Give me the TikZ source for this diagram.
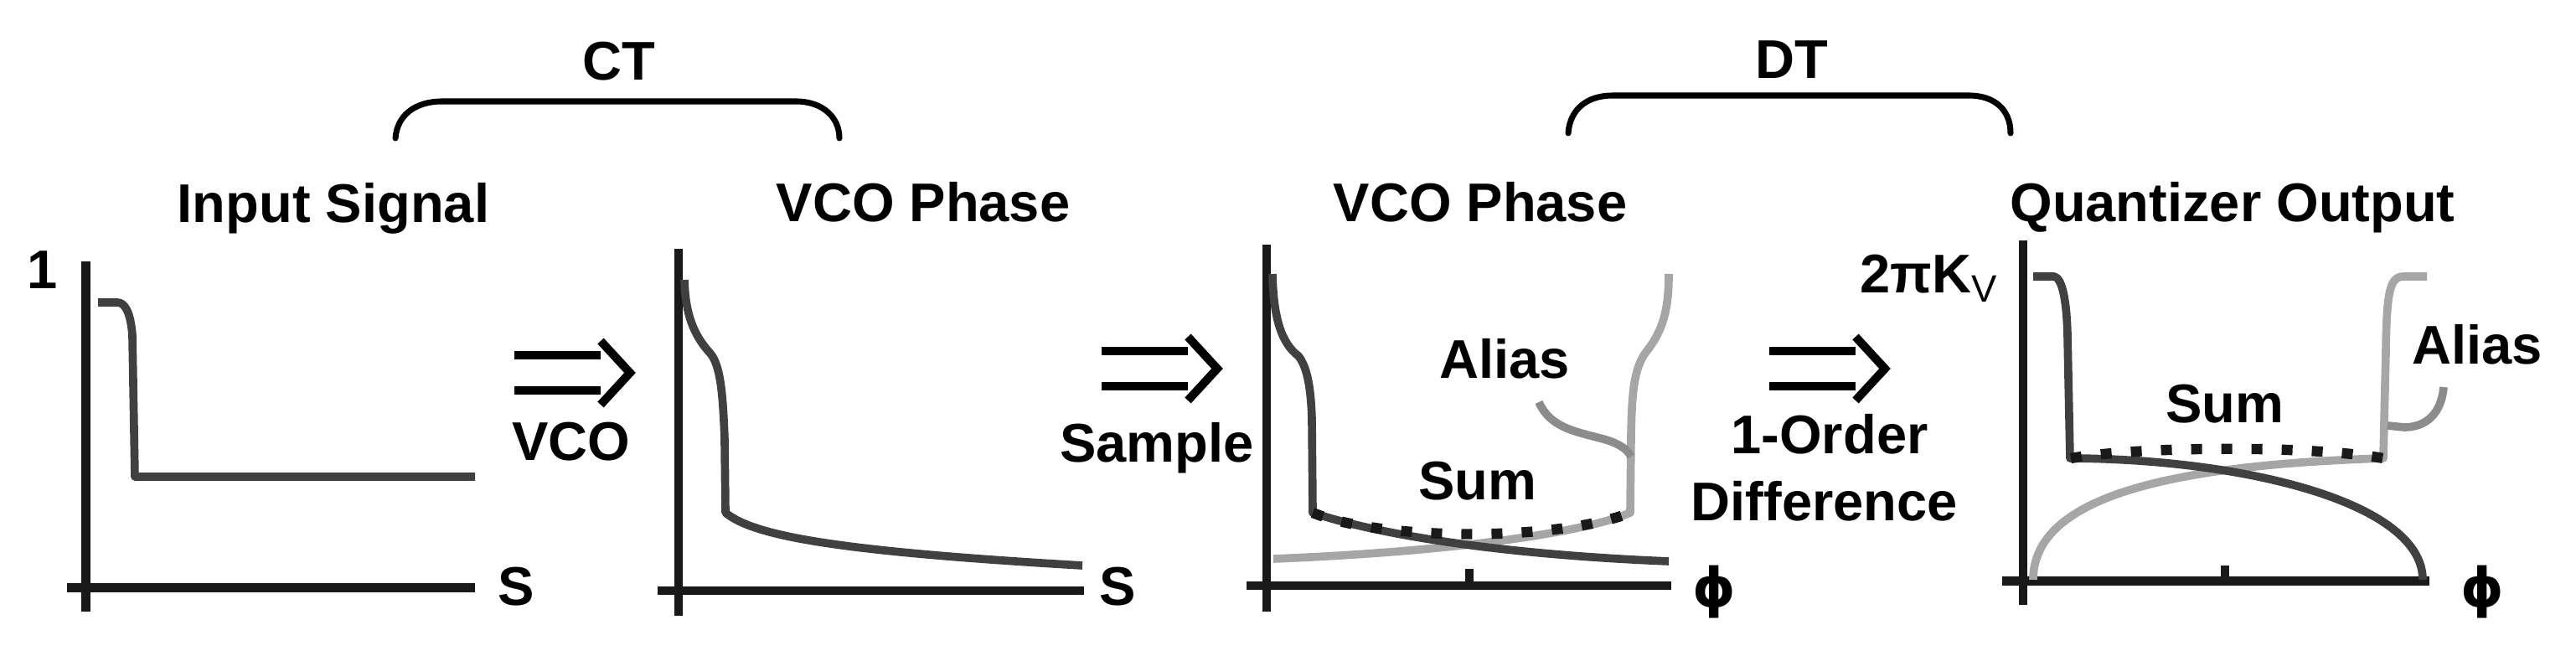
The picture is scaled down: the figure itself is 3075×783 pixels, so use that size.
\documentclass[tikz,border=0pt]{standalone}
\usepackage{fontspec}
\setmainfont{Liberation Sans}
\newfontfamily\phifont{DejaVu Sans}

\tikzset{
  lbl/.style={anchor=base, inner sep=0pt, font=\fontsize{18.5}{22}\selectfont\bfseries},
  axisline/.style={line width=2.85pt, draw=black!90},
  darkcurve/.style={line width=2.75pt, draw=black!75, line join=round},
  lightcurve/.style={line width=2.75pt, draw=black!35, line join=round},
  aliascurve/.style={line width=2.75pt, draw=black!45},
  sumcurve/.style={line width=3.5pt, draw=black!90, dash pattern=on 0.13cm off 0.23cm},
  bracket/.style={line width=2pt, line cap=round},
  arrowline/.style={line width=2.85pt},
}

\begin{document}
\begin{tikzpicture}[x=0.01cm, y=-0.01cm]
\useasboundingbox (0, 0) rectangle (3075, 783);

% CT / DT brackets
\node[lbl] at (739, 96)
(ct) {CT};
\node[lbl] at (2139, 94)
(dt) {DT};
\draw[bracket] (472, 165) .. controls (474, 138) and (495, 121) .. (528, 121)
  -- (950, 121) .. controls (982, 121) and (1002, 140) .. (1002, 165);
\draw[bracket] (1872, 159) .. controls (1874, 130) and (1895, 114) .. (1925, 114)
  -- (2350, 114) .. controls (2382, 114) and (2400, 132) .. (2400, 159);

% titles
\node[lbl] at (398, 266)
(insig) {Input Signal};
\node[lbl] at (1102, 265)
(ctphase) {VCO Phase};
\node[lbl] at (1767, 265)
(dtphase) {VCO Phase};
\node[lbl] at (2665, 265)
(qout) {Quantizer Output};

% axis labels
\node[lbl] at (51, 345)
(one) {1};
\node[lbl, anchor=base east] at (2386, 350)
(kv) {2πK\textsubscript{\mdseries V}};
\node[lbl] at (616, 723)
(sa) {S};
\node[lbl] at (1334, 723)
(sb) {S};
\node[lbl] at (2046, 725)
(phia) {\phifont ϕ};
\node[lbl] at (2963, 725)
(phib) {\phifont ϕ};

% step labels
\node[lbl] at (682, 550)
(vco) {VCO};
\node[lbl] at (1381, 552)
(smp) {Sample};
\node[lbl] at (2184, 542)
(ordr) {1-Order};
\node[lbl] at (2178, 622)
(diff) {Difference};

% curve labels
\node[lbl] at (1796, 452)
(aliasa) {Alias};
\node[lbl] at (1764, 597)
(suma) {Sum};
\node[lbl] at (2957, 435)
(aliasb) {Alias};
\node[lbl] at (2656, 505)
(sumb) {Sum};

% step arrows
\foreach \ax/\ay in {614/445, 1315/440, 2112/440} {
  \draw[arrowline] (\ax, \ay-21) -- ++(103, 0);
  \draw[arrowline] (\ax, \ay+21) -- ++(103, 0);
  \draw[arrowline] (\ax+103, \ay-38) -- (\ax+138, \ay) -- (\ax+103, \ay+38);
}

% axes
\draw[axisline] (102.5, 312) -- (102.5, 730);
\draw[axisline] (80, 701.5) -- (567, 701.5);
\draw[axisline] (810, 297) -- (810, 735);
\draw[axisline] (785, 705) -- (1294, 705);
\draw[axisline] (1512, 292) -- (1512, 730);
\draw[axisline] (1488, 699) -- (1995, 699);
\draw[axisline] (1754, 679) -- (1754, 699);
\draw[axisline] (2415, 287) -- (2415, 722);
\draw[axisline] (2390, 693.5) -- (2900, 693.5);
\draw[axisline] (2656, 675) -- (2656, 693.5);

% input signal
\draw[darkcurve] (117, 361) -- (140, 361) .. controls (150, 361) and (156, 375) .. (158, 400)
  -- (161, 569) -- (567, 569);

% CT phase
\draw[darkcurve] (817, 334) .. controls (818, 375) and (828, 400) .. (848, 422)
  .. controls (860, 436) and (863, 470) .. (865, 525) -- (866, 612)
  .. controls (900, 640) and (1000, 658) .. (1292, 675);

% DT phase
\draw[lightcurve] (1520, 667) .. controls (1700, 660) and (1880, 640) .. (1946, 612)
  -- (1947, 520) .. controls (1948, 470) and (1950, 440) .. (1965, 420)
  .. controls (1985, 395) and (1992, 370) .. (1992, 327);
\draw[darkcurve] (1519, 327) .. controls (1520, 380) and (1530, 410) .. (1550, 425)
  .. controls (1562, 440) and (1565, 470) .. (1566, 500) -- (1567, 612)
  .. controls (1620, 630) and (1750, 660) .. (1992, 670);
\draw[aliascurve] (1837, 480) .. controls (1850, 510) and (1880, 515) .. (1910, 523)
  .. controls (1930, 528) and (1942, 535) .. (1947, 545);
\draw[sumcurve] (1567, 612) .. controls (1650, 646) and (1860, 646) .. (1946, 612);

% quantizer output
\draw[lightcurve] (2427, 692) .. controls (2427, 590) and (2600, 555) .. (2845, 547)
  -- (2848, 420) .. controls (2849, 345) and (2853, 330) .. (2870, 330) -- (2897, 330);
\draw[darkcurve] (2427, 330) -- (2452, 330) .. controls (2462, 332) and (2467, 360) .. (2468, 400)
  -- (2471, 547) .. controls (2680, 548) and (2892, 600) .. (2892, 692);
\draw[aliascurve] (2917, 462) .. controls (2914, 495) and (2895, 510) .. (2870, 510) -- (2850, 508);
\draw[sumcurve] (2472, 547) .. controls (2560, 532) and (2760, 532) .. (2845, 547);
\end{tikzpicture}
\end{document}
